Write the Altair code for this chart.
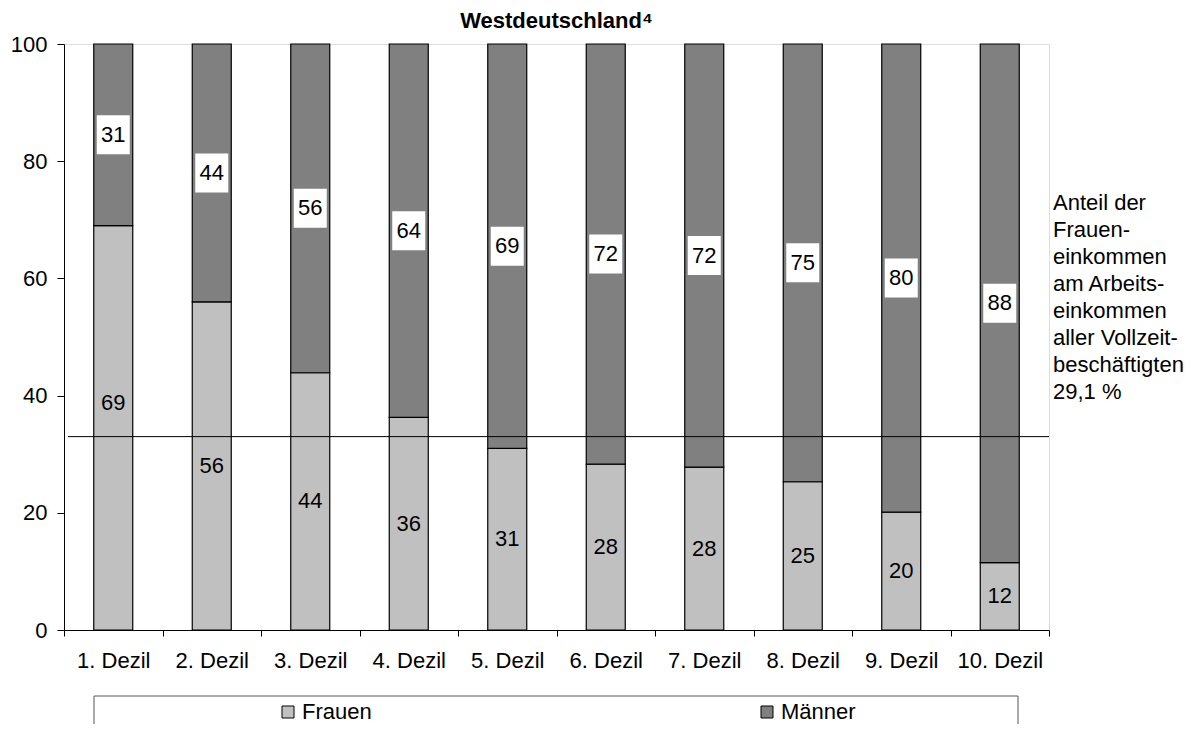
import altair as alt
import pandas as pd

# ---- data ----
deciles = ["1. Dezil", "2. Dezil", "3. Dezil", "4. Dezil", "5. Dezil",
           "6. Dezil", "7. Dezil", "8. Dezil", "9. Dezil", "10. Dezil"]
female_share = [69.0, 56.0, 43.9, 36.3, 31.0, 28.3, 27.8, 25.3, 20.1, 11.5]
female_labels = [69, 56, 44, 36, 31, 28, 28, 25, 20, 12]
male_labels = [31, 44, 56, 64, 69, 72, 72, 75, 80, 88]
series = ["Frauen", "Männer"]
series_colors = ["#c0c0c0", "#808080"]
reference_share = 33.0
title_text = "Westdeutschland⁴"
annotation_lines = ["Anteil der", "Frauen-", "einkommen", "am Arbeits-",
                    "einkommen", "aller Vollzeit-", "beschäftigten", "29,1 %"]

FONT = "Liberation Sans"
FS = 22
W, H = 985, 586

# ---- tables ----
bar_rows = []
for d, f in zip(deciles, female_share):
    bar_rows.append({"dezil": d, "sex": series[0], "y0": 0.0, "y1": f})
    bar_rows.append({"dezil": d, "sex": series[1], "y0": f, "y1": 100.0})
bars_df = pd.DataFrame(bar_rows)

fem_rows = []
for d, f, lab in zip(deciles, female_share, female_labels):
    pos = f / 2
    if abs(pos - reference_share) < 3:  # label moved clear of the reference line
        pos += 4.3
    fem_rows.append({"dezil": d, "pos": pos, "label": str(lab)})
fem_df = pd.DataFrame(fem_rows)

box_half = 39 / 2 / (H / 100)
male_rows = []
for d, f, lab in zip(deciles, female_share, male_labels):
    pos = (f + 100) / 2
    male_rows.append({"dezil": d, "pos": pos, "lo": pos - box_half,
                      "hi": pos + box_half, "label": str(lab)})
male_df = pd.DataFrame(male_rows)

ref_df = pd.DataFrame({"v": [reference_share]})
ann_df = pd.DataFrame({"t": ["\n".join(annotation_lines)]})
box_df = pd.DataFrame({"k": [0]})

# ---- shared encodings ----
x_axis = alt.Axis(title=None, labelAngle=0, labelFont=FONT, labelFontSize=FS,
                  labelColor="black", tickBand="extent", tickSize=6,
                  tickColor="black", domainColor="black", labelPadding=14,
                  grid=False)
x_enc = alt.X("dezil:N", sort=deciles,
              scale=alt.Scale(paddingInner=0, paddingOuter=0), axis=x_axis)
y_axis = alt.Axis(title=None, values=[0, 20, 40, 60, 80, 100], labelFont=FONT,
                  labelFontSize=FS, labelColor="black", tickSize=7,
                  tickColor="black", domainColor="black", labelPadding=10,
                  grid=False)
y_scale = alt.Scale(domain=[0, 100], nice=False)

bars = alt.Chart(bars_df).mark_bar(size=39, stroke="black", strokeWidth=1.2).encode(
    x=x_enc,
    y=alt.Y("y0:Q", scale=y_scale, axis=y_axis),
    y2="y1:Q",
    color=alt.Color("sex:N", scale=alt.Scale(domain=series, range=series_colors),
                    legend=alt.Legend(title=None, orient="none", legendX=213,
                                      legendY=657, direction="horizontal",
                                      columns=2, columnPadding=384,
                                      symbolType="square", symbolSize=144,
                                      symbolStrokeColor="black",
                                      symbolStrokeWidth=1, symbolOpacity=1,
                                      labelFont=FONT, labelFontSize=FS,
                                      labelColor="black", labelOffset=3,
                                      padding=0)),
)

ref_rule = alt.Chart(ref_df).mark_rule(color="black", strokeWidth=1).encode(
    y=alt.Y("v:Q", scale=y_scale, axis=y_axis),
    x=alt.value(4), x2=alt.value(W),
)

fem_text = alt.Chart(fem_df).mark_text(font=FONT, fontSize=FS, color="black",
                                       baseline="middle").encode(
    x=x_enc, y=alt.Y("pos:Q", scale=y_scale, axis=y_axis), text="label:N")

male_box = alt.Chart(male_df).mark_bar(size=33, color="white").encode(
    x=x_enc, y=alt.Y("lo:Q", scale=y_scale, axis=y_axis), y2="hi:Q")

male_text = alt.Chart(male_df).mark_text(font=FONT, fontSize=FS, color="black",
                                         baseline="middle").encode(
    x=x_enc, y=alt.Y("pos:Q", scale=y_scale, axis=y_axis), text="label:N")

annotation = alt.Chart(ann_df).mark_text(font=FONT, fontSize=FS, color="black",
                                         align="left", baseline="top",
                                         lineBreak="\n", lineHeight=27).encode(
    x=alt.value(W + 4), y=alt.value(149), text="t:N")

legend_box = alt.Chart(box_df).mark_rect(fillOpacity=0, stroke="#555555",
                                         strokeWidth=1).encode(
    x=alt.value(30), x2=alt.value(954), y=alt.value(652), y2=alt.value(730))

chart = alt.layer(bars, ref_rule, fem_text, male_box, male_text, annotation,
                  legend_box).properties(
    width=W, height=H,
    title=alt.TitleParams(title_text, font=FONT, fontSize=22, fontWeight="bold",
                          color="black", anchor="middle", frame="group",
                          offset=0),
    autosize=alt.AutoSizeParams(type="none"),
    padding={"left": 56, "top": 36, "right": 147, "bottom": 94},
).configure_view(stroke="#888888", strokeWidth=1).configure(background="white")

chart.save("out.html", embed_options={"renderer": "svg", "actions": False})
